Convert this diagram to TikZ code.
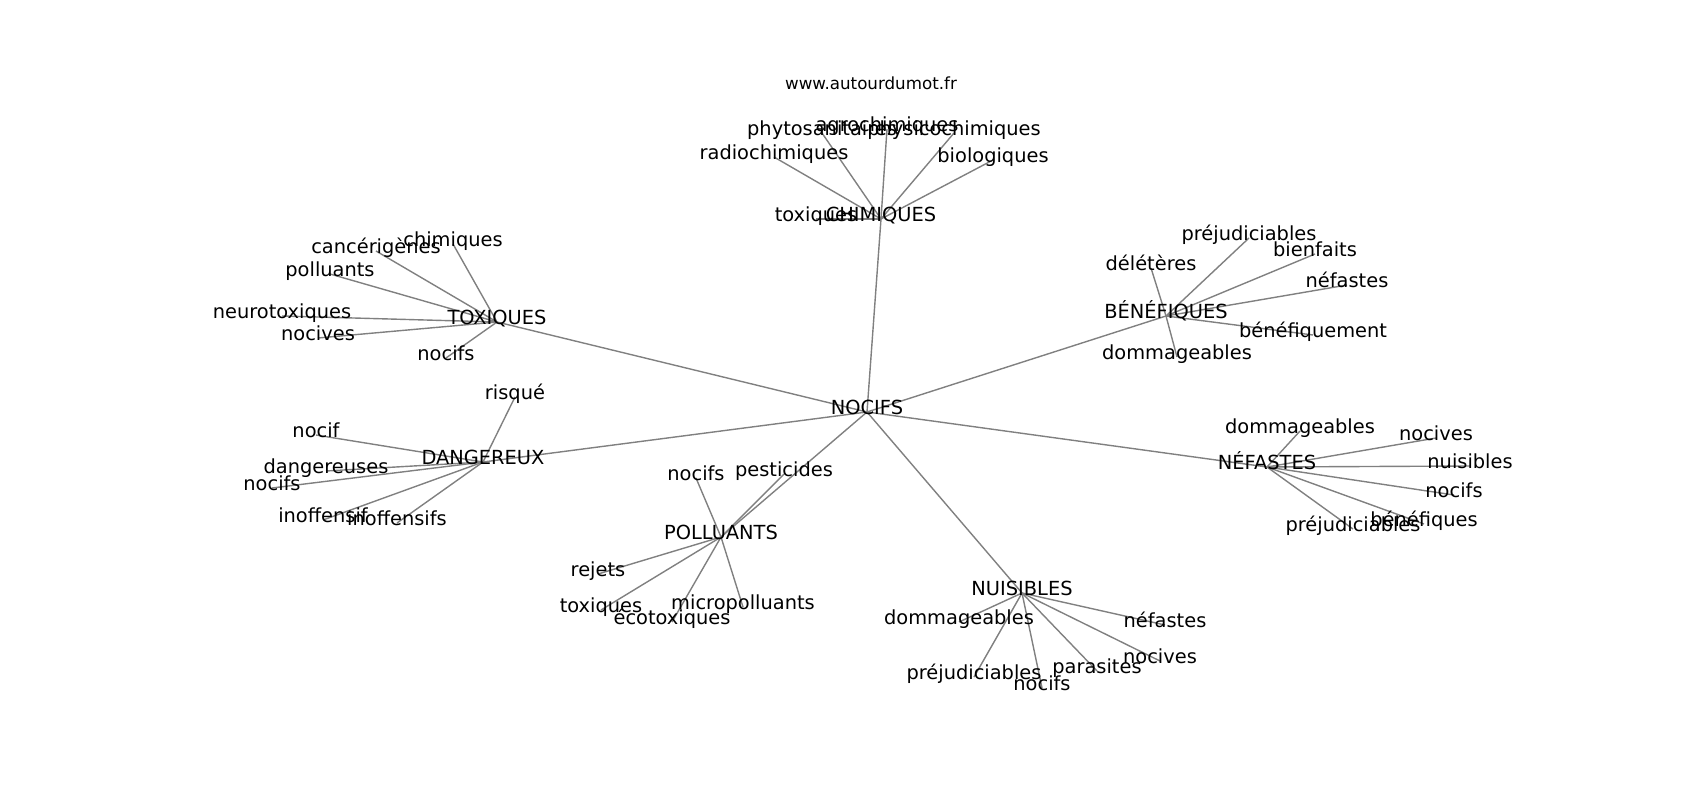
\documentclass[tikz,border=0pt]{standalone}
\usepackage{fontspec}
\setmainfont{DejaVu Sans}
\usetikzlibrary{backgrounds}

\begin{document}
\begin{tikzpicture}[
  x=1pt, y=-1pt,
  % Define styles for different elements
  word/.style={inner sep=0pt, text height=0.76em, text depth=0.24em, font=\fontsize{19.4}{23}\selectfont},
  hub/.style={word},
  leaf/.style={word},
  title/.style={inner sep=0pt, font=\fontsize{16.7}{20}\selectfont},
  edge/.style={draw=gray, line width=1.4pt}
]
\useasboundingbox (0,0) rectangle (1700,800);

\node[title] (site) at (871,83) {www.autourdumot.fr};

% Centre
\node[hub] (nocifs) at (867,412) {NOCIFS};

% Hubs
\node[hub] (chimiques) at (881,219) {CHIMIQUES};
\node[hub] (toxiques) at (497,322) {TOXIQUES};
\node[hub] (dangereux) at (483,462) {DANGEREUX};
\node[hub] (benefiques) at (1166,316) {BÉNÉFIQUES};
\node[hub] (nefastes) at (1267,467) {NÉFASTES};
\node[hub] (polluants) at (721,537) {POLLUANTS};
\node[hub] (nuisibles) at (1022,593) {NUISIBLES};

% CHIMIQUES group
\node[leaf] (phyto1) at (822,133) {phytosanitaires};
\node[leaf] (agro1) at (887,129) {agrochimiques};
\node[leaf] (physico1) at (954,133) {physicochimiques};
\node[leaf] (radio1) at (774,157) {radiochimiques};
\node[leaf] (bio1) at (993,160) {biologiques};
\node[leaf] (tox1) at (816,219) {toxiques};

% TOXIQUES group
\node[leaf] (chim2) at (453,244) {chimiques};
\node[leaf] (canc2) at (376,251) {cancérigènes};
\node[leaf] (poll2) at (330,274) {polluants};
\node[leaf] (neuro2) at (282,316) {neurotoxiques};
\node[leaf] (nocives2) at (318,338) {nocives};
\node[leaf] (nocifs2) at (446,358) {nocifs};

% DANGEREUX group
\node[leaf] (risque3) at (515,397) {risqué};
\node[leaf] (nocif3) at (316,435) {nocif};
\node[leaf] (dang3) at (326,471) {dangereuses};
\node[leaf] (nocifs3) at (272,488) {nocifs};
\node[leaf] (inoff3) at (323,520) {inoffensif};
\node[leaf] (inoffs3) at (397,523) {inoffensifs};

% BÉNÉFIQUES group
\node[leaf] (prej4) at (1249,238) {préjudiciables};
\node[leaf] (bienf4) at (1315,254) {bienfaits};
\node[leaf] (delet4) at (1151,268) {délétères};
\node[leaf] (nef4) at (1347,285) {néfastes};
\node[leaf] (benef4) at (1313,335) {bénéfiquement};
\node[leaf] (domm4) at (1177,357) {dommageables};

% NÉFASTES group
\node[leaf] (domm5) at (1300,431) {dommageables};
\node[leaf] (nocives5) at (1436,438) {nocives};
\node[leaf] (nuis5) at (1470,466) {nuisibles};
\node[leaf] (nocifs5) at (1454,495) {nocifs};
\node[leaf] (benef5) at (1424,524) {bénéfiques};
\node[leaf] (prej5) at (1353,529) {préjudiciables};

% POLLUANTS group
\node[leaf] (nocifs6) at (696,478) {nocifs};
\node[leaf] (pest6) at (784,474) {pesticides};
\node[leaf] (rejets6) at (598,574) {rejets};
\node[leaf] (tox6) at (601,610) {toxiques};
\node[leaf] (ecotox6) at (672,622) {écotoxiques};
\node[leaf] (micro6) at (743,607) {micropolluants};

% NUISIBLES group
\node[leaf] (domm7) at (959,622) {dommageables};
\node[leaf] (nef7) at (1165,625) {néfastes};
\node[leaf] (nocives7) at (1160,661) {nocives};
\node[leaf] (prej7) at (974,677) {préjudiciables};
\node[leaf] (paras7) at (1097,671) {parasites};
\node[leaf] (nocifs7) at (1042,688) {nocifs};

% Connectors, behind the words
\begin{scope}[on background layer]
\foreach \h in {chimiques, toxiques, dangereux, benefiques, nefastes, polluants, nuisibles}
  \draw[edge] (nocifs.center) -- (\h.center);
\foreach \l in {phyto1, agro1, physico1, radio1, bio1, tox1}
  \draw[edge] (chimiques.center) -- (\l.center);
\foreach \l in {chim2, canc2, poll2, neuro2, nocives2, nocifs2}
  \draw[edge] (toxiques.center) -- (\l.center);
\foreach \l in {risque3, nocif3, dang3, nocifs3, inoff3, inoffs3}
  \draw[edge] (dangereux.center) -- (\l.center);
\foreach \l in {prej4, bienf4, delet4, nef4, benef4, domm4}
  \draw[edge] (benefiques.center) -- (\l.center);
\foreach \l in {domm5, nocives5, nuis5, nocifs5, benef5, prej5}
  \draw[edge] (nefastes.center) -- (\l.center);
\foreach \l in {nocifs6, pest6, rejets6, tox6, ecotox6, micro6}
  \draw[edge] (polluants.center) -- (\l.center);
\foreach \l in {domm7, nef7, nocives7, prej7, paras7, nocifs7}
  \draw[edge] (nuisibles.center) -- (\l.center);
\end{scope}

\end{tikzpicture}
\end{document}
